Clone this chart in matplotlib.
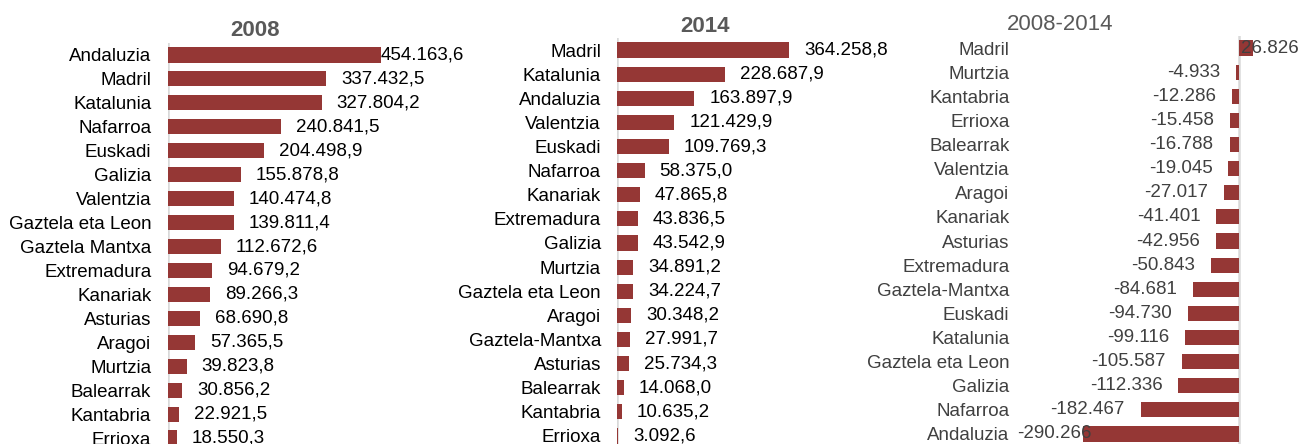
import matplotlib
matplotlib.use("Agg")
import matplotlib.pyplot as plt

plt.rcParams['font.family'] = ['Liberation Sans', 'DejaVu Sans']

regions_2008 = ["Andaluzia", "Madril", "Katalunia", "Nafarroa", "Euskadi", "Galizia",
                "Valentzia", "Gaztela eta Leon", "Gaztela Mantxa", "Extremadura", "Kanariak",
                "Asturias", "Aragoi", "Murtzia", "Balearrak", "Kantabria", "Errioxa"]
values_2008 = [454163.6, 337432.5, 327804.2, 240841.5, 204498.9, 155878.8, 140474.8,
               139811.4, 112672.6, 94679.2, 89266.3, 68690.8, 57365.5, 39823.8,
               30856.2, 22921.5, 18550.3]

regions_2014 = ["Madril", "Katalunia", "Andaluzia", "Valentzia", "Euskadi", "Nafarroa",
                "Kanariak", "Extremadura", "Galizia", "Murtzia", "Gaztela eta Leon",
                "Aragoi", "Gaztela-Mantxa", "Asturias", "Balearrak", "Kantabria", "Errioxa"]
values_2014 = [364258.8, 228687.9, 163897.9, 121429.9, 109769.3, 58375.0, 47865.8,
               43836.5, 43542.9, 34891.2, 34224.7, 30348.2, 27991.7, 25734.3,
               14068.0, 10635.2, 3092.6]

regions_diff = ["Madril", "Murtzia", "Kantabria", "Errioxa", "Balearrak", "Valentzia",
                "Aragoi", "Kanariak", "Asturias", "Extremadura", "Gaztela-Mantxa",
                "Euskadi", "Katalunia", "Gaztela eta Leon", "Galizia", "Nafarroa", "Andaluzia"]
values_diff = [26826, -4933, -12286, -15458, -16788, -19045, -27017, -41401, -42956,
               -50843, -84681, -94730, -99116, -105587, -112336, -182467, -290266]

W, H = 1310, 444
BAR = "#953735"
GRID = "#d9d9d9"
FS = 13.5


def rect(left, top, right, bottom):
    return [left / W, 1 - bottom / H, (right - left) / W, (bottom - top) / H]


def eu(v, dec):
    s = f"{v:,.{dec}f}"
    return s.replace(",", "X").replace(".", ",").replace("X", ".")


fig = plt.figure(figsize=(W / 100, H / 100), dpi=100)


def panel(box, names, vals, xlim, label_pad, txt_color, dec, clamp_back=None):
    ax = fig.add_axes(rect(*box))
    ys = range(len(names))
    ax.barh(ys, vals, height=0.63, color=BAR)
    ax.set_xlim(*xlim)
    ax.set_ylim(len(names) - 0.5, -0.5)
    ax.set_yticks(list(ys))
    ax.set_yticklabels(names, fontsize=FS, color=txt_color)
    ax.tick_params(axis="y", length=0, pad=label_pad)
    ax.set_xticks([])
    for s in ax.spines.values():
        s.set_visible(False)
    ax.patch.set_visible(False)
    # data units per pixel
    upp = (xlim[1] - xlim[0]) / (box[2] - box[0])
    ax.axvline(0, color=GRID, lw=1.8, zorder=0)
    for y, v in zip(ys, vals):
        if v >= 0:
            x = v + 15 * upp
            # labels that would run past the plot area get pulled back (as in Excel)
            if clamp_back is not None and x > xlim[1]:
                x = xlim[1] - clamp_back * upp
            ax.text(x, y, eu(v, dec), ha="left", va="center", fontsize=FS,
                    color=txt_color, clip_on=False)
        else:
            x = max(v - 16 * upp, xlim[0] + 9 * upp)
            ax.text(x, y, eu(v, dec), ha="right", va="center", fontsize=FS,
                    color=txt_color, clip_on=False)
    return ax


panel((168, 43, 381, 450), regions_2008, values_2008, (0, 454163.6), 12, "black", 1, clamp_back=0)
panel((617, 38, 789, 448), regions_2014, values_2014, (0, 364258.8), 11.5, "black", 1)
panel((1083, 36, 1253, 446), regions_diff, values_diff, (-290266, 26826), 53, "#404040", 0,
      clamp_back=12)

fig.text(255 / W, 1 - 31 / H, "2008", ha="center", va="center", fontsize=16,
         fontweight="bold", color="#595959")
fig.text(705 / W, 1 - 26 / H, "2014", ha="center", va="center", fontsize=16,
         fontweight="bold", color="#595959")
fig.text(1060 / W, 1 - 24 / H, "2008-2014", ha="center", va="center", fontsize=16,
         color="#595959")

fig.savefig("out.png", dpi=100)
